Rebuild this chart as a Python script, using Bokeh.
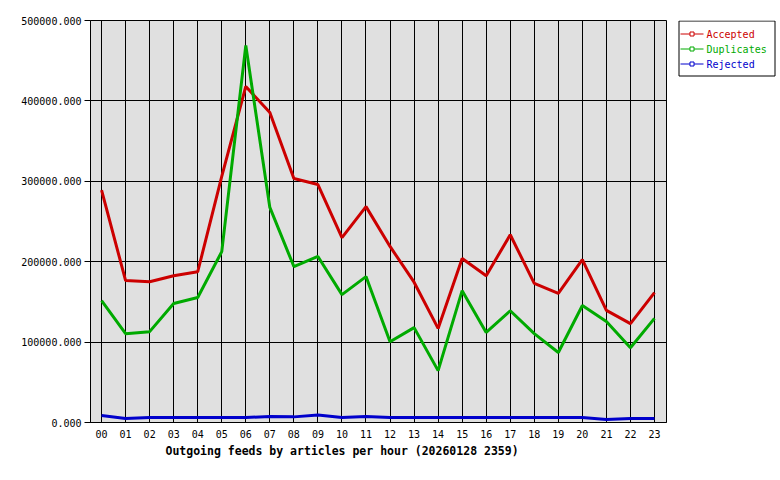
from bokeh.plotting import figure
from bokeh.layouts import row
from bokeh.models import Range1d, FixedTicker, PrintfTickFormatter, ColumnDataSource, Title
from bokeh.core.properties import value
from bokeh.embed import file_html
from bokeh.resources import INLINE

hours = ["00", "01", "02", "03", "04", "05", "06", "07", "08", "09", "10", "11",
         "12", "13", "14", "15", "16", "17", "18", "19", "20", "21", "22", "23"]
accepted = [289000, 176500, 175000, 182500, 187500, 306000, 418000, 385500, 303500, 296000,
            230000, 268500, 219000, 174500, 117000, 204000, 182500, 233500, 173000, 160500,
            202500, 139500, 123000, 161500]
duplicates = [151500, 110500, 113000, 148000, 155500, 212500, 469000, 267500, 194000, 206500,
              159000, 181500, 100500, 118000, 64500, 164000, 112000, 139000, 110500, 87000,
              145500, 125500, 93000, 129500]
rejected = [8700, 5000, 6200, 6200, 6200, 6200, 6200, 7500, 7000, 9300,
            6200, 7500, 6200, 6200, 6200, 6200, 6200, 6200, 6200, 6200,
            6200, 3700, 5000, 5000]
series_names = ["Accepted", "Duplicates", "Rejected"]
series_colors = ["#cc0000", "#00aa00", "#0000cc"]
y_ticks = [0, 100000, 200000, 300000, 400000, 500000]
x_title = "Outgoing feeds by articles per hour (20260128 2359)"

FONT = "DejaVu Sans Mono"
xs = list(range(len(hours)))

p = figure(width=667, height=480, output_backend="svg", toolbar_location=None,
           x_range=Range1d(-0.46, 23.5), y_range=Range1d(0, 500000),
           min_border_left=90, min_border_right=1, min_border_top=20,
           min_border_bottom=58, background_fill_color="#e0e0e0",
           border_fill_color="white")
p.outline_line_color = "black"
p.outline_line_width = 1

# axes
p.yaxis.ticker = FixedTicker(ticks=y_ticks)
p.yaxis.formatter = PrintfTickFormatter(format="%.3f")
p.yaxis.major_tick_out = 6
p.yaxis.major_tick_in = 0
p.yaxis.minor_tick_out = 0
p.yaxis.minor_tick_in = 0
p.yaxis.major_label_standoff = 3
p.yaxis.axis_line_color = "black"
p.yaxis.major_tick_line_color = "black"

p.xaxis.ticker = FixedTicker(ticks=xs)
p.xaxis.major_label_overrides = {i: h for i, h in enumerate(hours)}
p.xaxis.major_tick_out = 0
p.xaxis.major_tick_in = 0
p.xaxis.minor_tick_out = 0
p.xaxis.minor_tick_in = 0
p.xaxis.major_label_standoff = 7
p.xaxis.axis_line_color = "black"

for ax in (p.xaxis, p.yaxis):
    ax.major_label_text_font = FONT
    ax.major_label_text_font_size = "10px"
    ax.major_label_text_color = "black"

p.xgrid.ticker = FixedTicker(ticks=xs)
p.xgrid.grid_line_color = "black"
p.xgrid.grid_line_width = 1
p.ygrid.ticker = FixedTicker(ticks=y_ticks)
p.ygrid.grid_line_color = "black"
p.ygrid.grid_line_width = 1

title = Title(text=x_title, align="left", offset=75, text_font=FONT,
              text_font_size="11.5px", text_font_style="bold", text_color="black",
              standoff=2)
p.add_layout(title, "below")

# series
for name, vals, col in zip(series_names, [accepted, duplicates, rejected], series_colors):
    src = ColumnDataSource(dict(x=xs, y=vals))
    p.line("x", "y", source=src, line_color=col, line_width=3)

# legend panel: its frame is aligned with the main frame (page y 20..422);
# coordinates here are page pixels (y grows downward)
lf = figure(width=113, height=480, output_backend="svg", toolbar_location=None,
            x_range=Range1d(0, 113), y_range=Range1d(422, 20),
            x_axis_location=None, y_axis_location=None,
            min_border_left=0, min_border_right=0, min_border_top=0, min_border_bottom=0,
            background_fill_color="white", border_fill_color="white")
lf.outline_line_color = None
lf.grid.visible = False

row_y = [33.5, 48.5, 63.5]
lf.quad(left=[11.5], right=[107.5], top=[20.5], bottom=[75.5], fill_color="white",
        line_color="black", line_width=1)
lsrc = ColumnDataSource(dict(y=row_y, name=series_names, color=series_colors))
lf.segment(x0=13, x1=36, y0="y", y1="y", source=lsrc, line_color="color", line_width=1)
lf.scatter(x=24.5, y="y", source=lsrc, marker="square", size=4, line_color="color",
           fill_color="white", line_width=1)
lf.text(x=39, y="y", text="name", source=lsrc, text_color="color", text_baseline="middle",
        text_font=value(FONT), text_font_size="10px")

open("out.html", "w").write(file_html(row(p, lf, spacing=0), INLINE))
